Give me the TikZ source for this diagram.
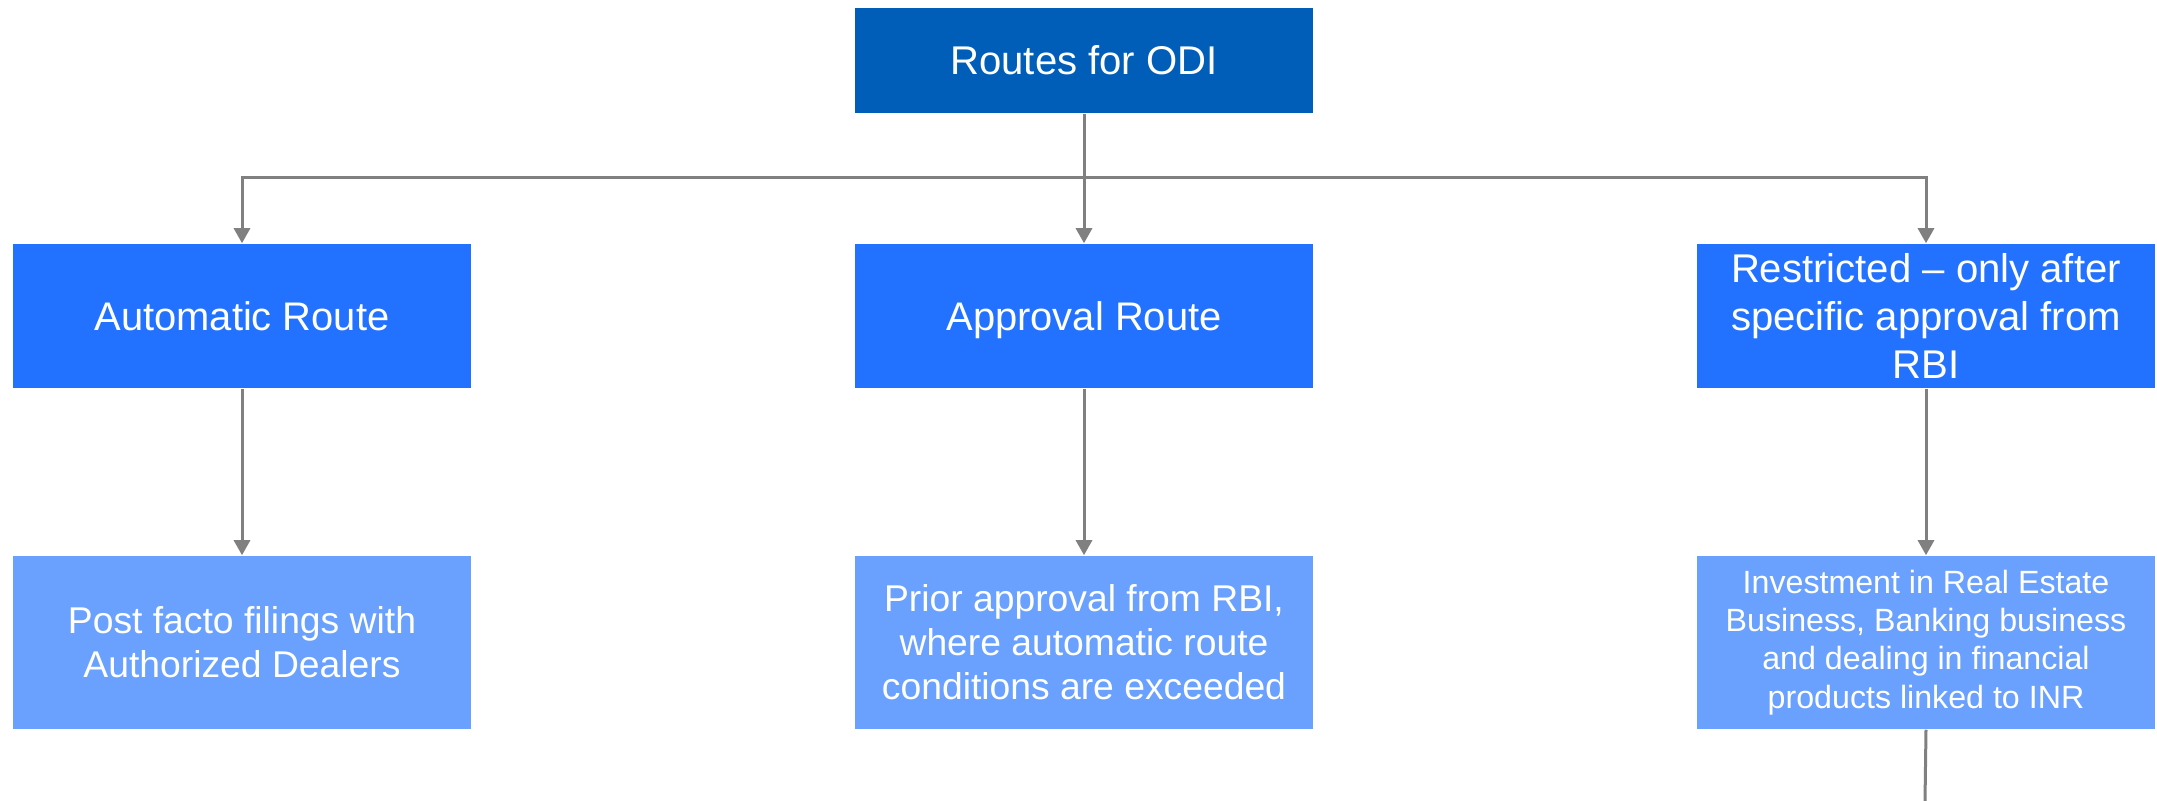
\documentclass[tikz,border=0pt]{standalone}
\usepackage{fontspec}
\setmainfont{Liberation Sans}
\usetikzlibrary{arrows.meta}
\definecolor{topblue}{RGB}{0,94,184}
\definecolor{midblue}{RGB}{35,114,255}
\definecolor{lightblue}{RGB}{106,161,255}
\definecolor{linegray}{RGB}{128,128,128}
\tikzset{
  box/.style={rectangle, inner sep=0pt, text=white, align=center},
  topbox/.style={box, fill=topblue, minimum width=4.58cm, minimum height=1.05cm, font=\fontsize{11.4}{13.7}\selectfont},
  routebox/.style={box, fill=midblue, minimum width=4.58cm, minimum height=1.44cm},
  leafbox/.style={box, fill=lightblue, minimum width=4.58cm, minimum height=1.73cm},
  conn/.style={draw=linegray, line width=0.03cm},
  arr/.style={conn, -{Triangle[width=0.16cm,length=0.15cm]}},
}
\begin{document}
\begin{tikzpicture}[x=0.01cm,y=-0.01cm]
\path[use as bounding box] (0,0) rectangle (2157,801);
\node[topbox] (top) at (1084,60.5) {Routes for ODI};
\node[routebox, font=\fontsize{11.35}{13.6}\selectfont, text depth=0pt] (auto) at (242,316) {Automatic Route};
\node[routebox, font=\fontsize{11.35}{13.6}\selectfont, text depth=0pt] (appr) at (1084,316) {Approval Route};
\node[routebox, font=\fontsize{11.4}{13.6}\selectfont] (restr) at (1926,316) {Restricted -- only after\\specific approval from\\RBI};
\node[leafbox, font=\fontsize{10.6}{12.5}\selectfont] (post) at (242,642.5) {Post facto filings with\\Authorized Dealers};
\node[leafbox, font=\fontsize{10.6}{12.5}\selectfont] (prior) at (1084,642.5) {Prior approval from RBI,\\where automatic route\\conditions are exceeded};
\node[leafbox, font=\fontsize{9.15}{10.9}\selectfont] (inv) at (1926,642.5) {Investment in Real Estate\\Business, Banking business\\and dealing in financial\\products linked to INR};
\coordinate (bus) at (1084,178);
\coordinate (tail) at (1925,801);
\draw[conn] (top.south) -- (bus);
\draw[arr] (bus) -| (auto.north);
\draw[arr] (bus) -| (restr.north);
\draw[arr] (bus) -- (appr.north);
\draw[arr] (auto.south) -- (post.north);
\draw[arr] (appr.south) -- (prior.north);
\draw[arr] (restr.south) -- (inv.north);
\draw[conn] (inv.south) -- (tail);
\end{tikzpicture}
\end{document}
